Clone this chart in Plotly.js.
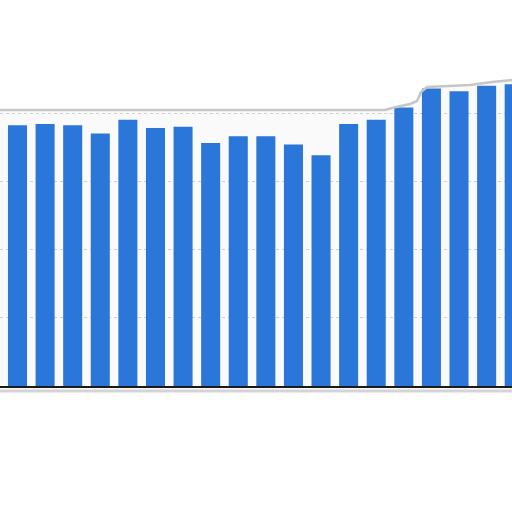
<!DOCTYPE html>
<html>
<head>
<meta charset="utf-8">
<script src="https://cdn.plot.ly/plotly-3.0.1.min.js"></script>
<style>
  html, body { margin: 0; padding: 0; background: #fff; }
  #graph { width: 512px; height: 512px; }
</style>
</head>
<body>
<div id="graph"></div>
<script>
// chart data
var categories = ['1', '2', '3', '4', '5', '6', '7', '8', '9', '10',
  '11', '12', '13', '14', '15', '16', '17', '18', '19'];
var values = [19.1, 19.2, 19.1, 18.5, 19.5, 18.9, 19.0, 17.8, 18.3, 18.3,
  17.7, 16.9, 19.2, 19.5, 20.4, 21.8, 21.6, 22.0, 22.1];
var gridTicks = [0, 5, 10, 15, 20];

// page is a cropped screenshot: the plot runs off the left/right edges
var W = 512, baseY = 386;
function px(x, y) {
  return (x / W).toFixed(4) + ',' + ((baseY - y) / baseY).toFixed(4);
}

// torn-paper outline around the plot panel
var topEdge = [[0, 110], [385, 110], [396, 107], [410, 104], [417, 101],
  [421, 92], [427, 87], [470, 85], [492, 82], [512, 80]];
var edgePath = 'M' + topEdge.map(function (p) { return px(p[0], p[1]); }).join(' L');
var panelPath = edgePath + ' L' + px(512, 391) + ' L' + px(0, 391) + ' Z';

var trace = {
  x: categories,
  y: values,
  type: 'bar',
  marker: { color: '#2a77d9' },
  hoverinfo: 'none'
};

var layout = {
  width: 512,
  height: 512,
  margin: { l: 0, r: 0, t: 0, b: 126 },
  paper_bgcolor: '#fff',
  plot_bgcolor: 'rgba(0,0,0,0)',
  bargap: 0.31,
  showlegend: false,
  xaxis: {
    type: 'category',
    range: [-0.634, 17.92],
    showticklabels: false,
    showgrid: false,
    zeroline: false,
    showline: true,
    linecolor: '#1a1a1a',
    linewidth: 1.5,
    ticks: ''
  },
  yaxis: {
    range: [0, 28.28],
    tickvals: gridTicks,
    showticklabels: false,
    showgrid: true,
    gridcolor: '#cfcfcf',
    griddash: 'dot',
    gridwidth: 1,
    zeroline: false,
    ticks: ''
  },
  shapes: [
    {
      type: 'path', xref: 'paper', yref: 'paper', layer: 'below',
      path: panelPath,
      fillcolor: '#fafafa',
      line: { width: 0 }
    },
    {
      type: 'path', xref: 'paper', yref: 'paper', layer: 'above',
      path: edgePath,
      line: { color: '#c6c6c6', width: 2.5 }
    },
    {
      type: 'line', xref: 'paper', yref: 'paper', layer: 'above',
      x0: 0, x1: 1, y0: (baseY - 391) / baseY, y1: (baseY - 391) / baseY,
      line: { color: '#d4d4d4', width: 3 }
    }
  ]
};

Plotly.newPlot('graph', [trace], layout, { displayModeBar: false, staticPlot: true });
</script>
</body>
</html>
